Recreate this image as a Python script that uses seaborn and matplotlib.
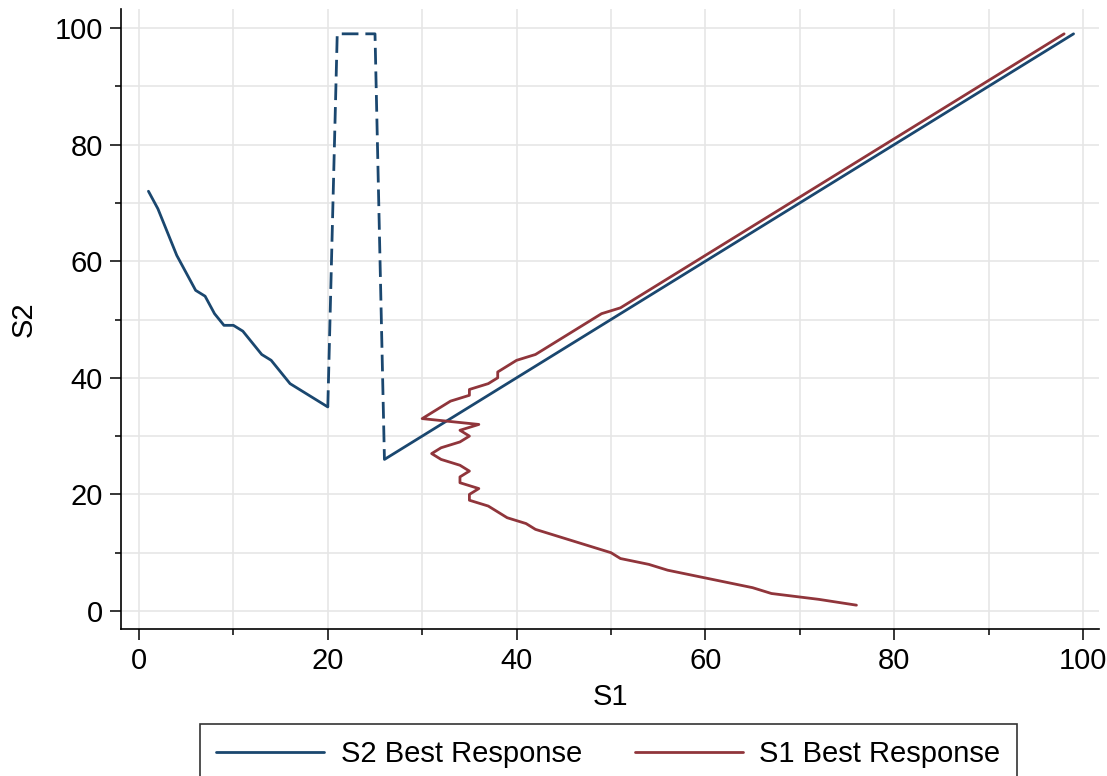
import matplotlib
matplotlib.use("Agg")
import matplotlib.pyplot as plt
import seaborn as sns
import pandas as pd
from matplotlib.ticker import MultipleLocator

# S2 best response (S2 as a function of S1)
s2br_s1 = [1, 2, 3, 4, 5, 6, 7, 8, 9, 10, 11, 12, 13, 14, 15, 16, 17, 18, 19, 20, 21, 25, 26, 99]
s2br_s2 = [72, 69, 65, 61, 58, 55, 54, 51, 49, 49, 48, 46, 44, 43, 41, 39, 38, 37, 36, 35, 99, 99, 26, 99]

# S1 best response (S1 as a function of S2)
s1br_s2 = [1, 2, 3, 4, 5, 6, 7, 8, 9, 10, 11, 12, 13, 14, 15, 16, 17, 18, 19, 20,
           21, 22, 23, 24, 25, 26, 27, 28, 29, 30, 31, 32, 33, 34, 35, 36, 37, 38, 39, 40,
           41, 42, 43, 44, 51, 52, 99]
s1br_s1 = [76, 72, 67, 65, 62, 59, 56, 54, 51, 50, 48, 46, 44, 42, 41, 39, 38, 37, 35, 35,
           36, 34, 34, 35, 34, 32, 31, 32, 34, 35, 34, 36, 30, 31, 32, 33, 35, 35, 37, 38,
           38, 39, 40, 42, 49, 51, 98]

labels = ["S2 Best Response", "S1 Best Response"]
BLUE = "#1a476f"
RED = "#90353b"

sns.set_theme(style="white")
plt.rcParams["font.family"] = ["Liberation Sans", "DejaVu Sans"]
plt.rcParams.update({"text.color": "black", "axes.labelcolor": "black",
                     "xtick.color": "black", "ytick.color": "black"})

FS = 21

fig = plt.figure(figsize=(11.07, 7.76), dpi=100)
ax = fig.add_axes([121/1107, 1-629/776, (1099-121)/1107, (629-9)/776])

blue = pd.DataFrame({"S1": s2br_s1, "S2": s2br_s2})
red = pd.DataFrame({"S1": s1br_s1, "S2": s1br_s2})

lw = 2.0
sns.lineplot(data=blue.iloc[:20], x="S1", y="S2", sort=False, estimator=None,
             color=BLUE, lw=lw, ax=ax, label=labels[0], legend=False)
sns.lineplot(data=blue.iloc[19:23], x="S1", y="S2", sort=False, estimator=None,
             color=BLUE, lw=lw, ax=ax, legend=False)
ax.lines[-1].set_linestyle((0, (6, 2.5)))
sns.lineplot(data=blue.iloc[22:], x="S1", y="S2", sort=False, estimator=None,
             color=BLUE, lw=lw, ax=ax, legend=False)
sns.lineplot(data=red, x="S1", y="S2", sort=False, estimator=None,
             color=RED, lw=lw, ax=ax, label=labels[1], legend=False)

ax.set_xlim(-18/9.44, (1099-139)/9.44)
ax.set_ylim(-18/5.83, (611-9)/5.83)

ax.xaxis.set_major_locator(MultipleLocator(20))
ax.xaxis.set_minor_locator(MultipleLocator(10))
ax.yaxis.set_major_locator(MultipleLocator(20))
ax.yaxis.set_minor_locator(MultipleLocator(10))

ax.grid(True, which="both", color="#e6e6e6", lw=1.2)
ax.set_axisbelow(True)
for s in ["top", "right"]:
    ax.spines[s].set_visible(False)
for s in ["left", "bottom"]:
    ax.spines[s].set_color("black")
    ax.spines[s].set_linewidth(1.2)

ax.tick_params(which="major", direction="out", length=8, width=1.1, color="black",
               labelsize=FS, labelcolor="black", pad=5, left=True, bottom=True)
ax.tick_params(which="minor", direction="out", length=4, width=1.1, color="black",
               left=True, bottom=True)

ax.set_xlabel("S1", fontsize=FS, labelpad=6, color="black")
ax.set_ylabel("S2", fontsize=FS, labelpad=12, color="black")

handles, labs = ax.get_legend_handles_labels()
leg = fig.legend(handles, labs, loc="upper left", bbox_to_anchor=(200/1107, 1-724/776),
                 ncol=2, fontsize=FS, frameon=True, fancybox=False, handlelength=3.7,
                 handletextpad=0.58, columnspacing=1.8, borderpad=0.55, borderaxespad=0)
leg.get_frame().set_edgecolor("black")
leg.get_frame().set_linewidth(1.2)
for t in leg.get_texts():
    t.set_color("black")
for h in leg.legend_handles:
    h.set_linewidth(2.0)

fig.savefig("out.png", dpi=100)
